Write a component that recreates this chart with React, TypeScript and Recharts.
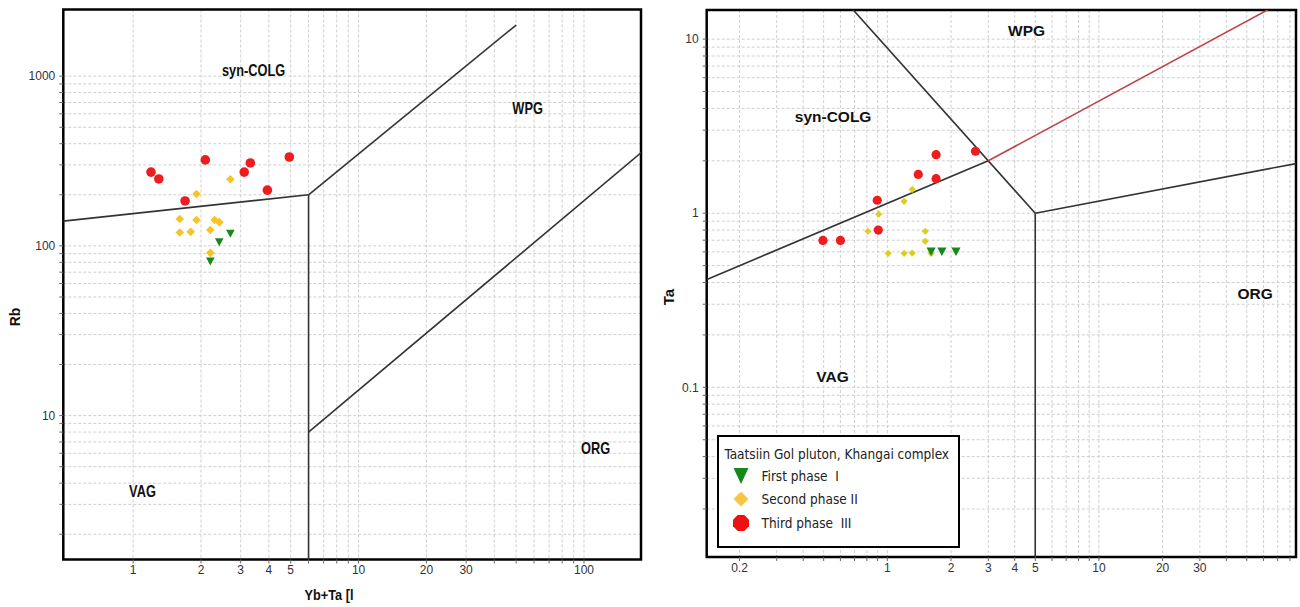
import React from 'react';
import { ScatterChart, Scatter, XAxis, YAxis, CartesianGrid, ReferenceLine, ReferenceArea } from 'recharts';

// ---------- Left diagram: Rb vs Yb+Ta ----------
const leftPhase1 = [
  { x: 2.7, y: 118 },
  { x: 2.41, y: 105 },
  { x: 2.2, y: 81 },
];
const leftPhase2 = [
  { x: 2.7, y: 247 },
  { x: 1.91, y: 202 },
  { x: 1.61, y: 144 },
  { x: 1.91, y: 142 },
  { x: 2.3, y: 142 },
  { x: 2.41, y: 138 },
  { x: 1.61, y: 120 },
  { x: 1.8, y: 121 },
  { x: 2.2, y: 124 },
  { x: 2.2, y: 91 },
];
const leftPhase3 = [
  { x: 1.2, y: 272 },
  { x: 1.3, y: 248 },
  { x: 2.09, y: 321 },
  { x: 1.7, y: 184 },
  { x: 3.11, y: 272 },
  { x: 3.31, y: 308 },
  { x: 3.94, y: 213 },
  { x: 4.93, y: 334 },
];
const leftXDomain = [0.49, 179];
const leftYDomain = [1.42, 2470];
const leftXTicks = [1, 2, 3, 4, 5, 6, 7, 8, 9, 10, 20, 30, 40, 50, 60, 70, 80, 90, 100];
const leftXLabels = [1, 2, 3, 4, 5, 10, 20, 30, 100];
const leftYTicks = [2, 3, 4, 5, 6, 7, 8, 9, 10, 20, 30, 40, 50, 60, 70, 80, 90, 100, 200, 300, 400, 500, 600, 700, 800, 900, 1000];
const leftYLabels = [10, 100, 1000];
const leftBoundaries = [
  [{ x: 0.49, y: 140 }, { x: 6, y: 200 }],
  [{ x: 6, y: 200 }, { x: 6, y: 1 }],
  [{ x: 6, y: 200 }, { x: 50, y: 2000 }],
  [{ x: 6, y: 8 }, { x: 200, y: 400 }],
];
const leftFields = [
  { x: 3.42, y: 1075, t: 'syn-COLG' },
  { x: 56.2, y: 649, t: 'WPG' },
  { x: 1.1, y: 3.59, t: 'VAG' },
  { x: 112.5, y: 6.4, t: 'ORG' },
];

// ---------- Right diagram: Ta vs Yb ----------
const rightPhase1 = [
  { x: 1.61, y: 0.6 },
  { x: 1.81, y: 0.6 },
  { x: 2.11, y: 0.6 },
];
const rightPhase2 = [
  { x: 1.31, y: 1.37 },
  { x: 1.2, y: 1.17 },
  { x: 0.91, y: 0.987 },
  { x: 0.81, y: 0.788 },
  { x: 1.51, y: 0.788 },
  { x: 1.51, y: 0.69 },
  { x: 1.01, y: 0.588 },
  { x: 1.2, y: 0.588 },
  { x: 1.31, y: 0.59 },
  { x: 1.61, y: 0.588 },
];
const rightPhase3 = [
  { x: 0.496, y: 0.698 },
  { x: 0.6, y: 0.698 },
  { x: 0.896, y: 1.187 },
  { x: 0.906, y: 0.8 },
  { x: 1.4, y: 1.67 },
  { x: 1.7, y: 2.17 },
  { x: 1.7, y: 1.58 },
  { x: 2.61, y: 2.27 },
];
const rightXDomain = [0.14, 85.4];
const rightYDomain = [0.0106, 14.7];
const rightXTicks = [0.2, 0.3, 0.4, 0.5, 0.6, 0.7, 0.8, 0.9, 1, 2, 3, 4, 5, 6, 7, 8, 9, 10, 20, 30, 40, 50, 60, 70, 80];
const rightXLabels = [0.2, 1, 2, 3, 4, 5, 10, 20, 30];
const rightYTicks = [0.02, 0.03, 0.04, 0.05, 0.06, 0.07, 0.08, 0.09, 0.1, 0.2, 0.3, 0.4, 0.5, 0.6, 0.7, 0.8, 0.9, 1, 2, 3, 4, 5, 6, 7, 8, 9, 10];
const rightYLabels = [0.1, 1, 10];
const rightBoundaries = [
  [{ x: 0.1, y: 0.35 }, { x: 3, y: 2 }],
  [{ x: 0.55, y: 20 }, { x: 5, y: 1 }],
  [{ x: 5, y: 1 }, { x: 5, y: 0.001 }],
  [{ x: 5, y: 1 }, { x: 100, y: 2 }],
];
const rightRedBoundary = [{ x: 3, y: 2 }, { x: 100, y: 20 }];
const rightFields = [
  { x: 4.55, y: 11.2, t: 'WPG' },
  { x: 0.554, y: 3.59, t: 'syn-COLG' },
  { x: 54.7, y: 0.344, t: 'ORG' },
  { x: 0.551, y: 0.1147, t: 'VAG' },
];

const legendTitle = 'Taatsiin Gol pluton, Khangai complex';
const legendItems = ['First phase  I', 'Second phase II', 'Third phase  III'];

const GREEN = '#17891a';
const RED = '#ec1c1f';
const GOLD_L = '#f6c425';
const GOLD_R = '#dccf1c';

const tickFont = { fontSize: 12, fill: '#333', fontFamily: 'Liberation Sans, Arial, sans-serif' };

const circleShape = (color: string, r: number) => (p: any) => (
  <circle cx={p.cx} cy={p.cy} r={r} fill={color} />
);
const diamondShape = (color: string, s: number) => (p: any) => (
  <polygon
    points={`${p.cx},${p.cy - s} ${p.cx + s},${p.cy} ${p.cx},${p.cy + s} ${p.cx - s},${p.cy}`}
    fill={color}
  />
);
const triDownShape = (color: string, w: number, h: number) => (p: any) => (
  <polygon
    points={`${p.cx - w},${p.cy - h / 2} ${p.cx + w},${p.cy - h / 2} ${p.cx},${p.cy + h / 2}`}
    fill={color}
  />
);
const fieldShape = (size: number, squeeze: number) => (p: any) => (
  <text
    transform={`translate(${p.cx} ${p.cy}) scale(${squeeze} 1)`}
    textAnchor="middle"
    dominantBaseline="central"
    fontFamily="Liberation Sans, Arial, sans-serif"
    fontWeight="bold"
    fontSize={size}
    fill="#111"
  >
    {p.payload.t}
  </text>
);

const AxisTitle = (props: any) => (
  <text
    transform={`translate(${props.tx} ${props.ty}) ${props.rot ? 'rotate(-90)' : ''} scale(${props.squeeze || 1} 1)`}
    textAnchor="middle"
    dominantBaseline="central"
    fontFamily="Liberation Sans, Arial, sans-serif"
    fontWeight="bold"
    fontSize={props.size || 14}
    fill="#111"
  >
    {props.text}
  </text>
);

const fmt = (labels: number[]) => (v: number) => (labels.some((l) => Math.abs(l - v) < 1e-9) ? String(v) : '');

function LeftChart() {
  return (
    <ScatterChart width={650} height={607} margin={{ top: 9.5, right: 9, bottom: 0, left: 0 }}>
      <CartesianGrid stroke="#cfcfcf" strokeDasharray="3 2" />
      <XAxis
        type="number"
        dataKey="x"
        scale="log"
        domain={leftXDomain}
        allowDataOverflow
        ticks={leftXTicks}
        tickFormatter={fmt(leftXLabels)}
        interval={0}
        height={47.5}
        axisLine={false}
        tickLine={{ stroke: '#666' }}
        tickSize={4}
        tick={tickFont}
        label={<AxisTitle tx={329} ty={595} text="Yb+Ta [l" size={15} squeeze={0.85} />}
      />
      <YAxis
        type="number"
        dataKey="y"
        scale="log"
        domain={leftYDomain}
        allowDataOverflow
        ticks={leftYTicks}
        tickFormatter={fmt(leftYLabels)}
        interval={0}
        width={63.3}
        axisLine={false}
        tickLine={{ stroke: '#666' }}
        tickSize={4}
        tickMargin={4}
        tick={tickFont}
        label={<AxisTitle tx={15} ty={317} rot text="Rb" size={14} />}
      />
      {leftBoundaries.map((seg, i) => (
        <ReferenceLine key={i} segment={seg} stroke="#333" strokeWidth={1.6} ifOverflow="hidden" />
      ))}
      <ReferenceArea
        x1={leftXDomain[0]}
        x2={leftXDomain[1]}
        y1={leftYDomain[0]}
        y2={leftYDomain[1]}
        fill="none"
        fillOpacity={0}
        stroke="#000"
        strokeWidth={2.5}
        ifOverflow="visible"
      />
      <Scatter data={leftFields} shape={fieldShape(16, 0.8)} isAnimationActive={false} />
      <Scatter data={leftPhase2} shape={diamondShape(GOLD_L, 4.3)} isAnimationActive={false} />
      <Scatter data={leftPhase1} shape={triDownShape(GREEN, 4.3, 8)} isAnimationActive={false} />
      <Scatter data={leftPhase3} shape={circleShape(RED, 4.8)} isAnimationActive={false} />
    </ScatterChart>
  );
}

function RightChart() {
  return (
    <ScatterChart width={650} height={607} margin={{ top: 10, right: 4, bottom: 0, left: 0 }}>
      <CartesianGrid stroke="#cfcfcf" strokeDasharray="3 2" />
      <XAxis
        type="number"
        dataKey="x"
        scale="log"
        domain={rightXDomain}
        allowDataOverflow
        ticks={rightXTicks}
        tickFormatter={fmt(rightXLabels)}
        interval={0}
        height={50}
        axisLine={false}
        tickLine={{ stroke: '#666' }}
        tickSize={4}
        tick={tickFont}
      />
      <YAxis
        type="number"
        dataKey="y"
        scale="log"
        domain={rightYDomain}
        allowDataOverflow
        ticks={rightYTicks}
        tickFormatter={fmt(rightYLabels)}
        interval={0}
        width={56.7}
        axisLine={false}
        tickLine={{ stroke: '#666' }}
        tickSize={4}
        tickMargin={4}
        tick={tickFont}
        label={<AxisTitle tx={18} ty={297} rot text="Ta" size={15} />}
      />
      {rightBoundaries.map((seg, i) => (
        <ReferenceLine key={i} segment={seg} stroke="#333" strokeWidth={1.6} ifOverflow="hidden" />
      ))}
      <ReferenceLine segment={rightRedBoundary} stroke="#c0444c" strokeWidth={1.6} ifOverflow="hidden" />
      <ReferenceArea
        x1={rightXDomain[0]}
        x2={rightXDomain[1]}
        y1={rightYDomain[0]}
        y2={rightYDomain[1]}
        fill="none"
        fillOpacity={0}
        stroke="#000"
        strokeWidth={2.5}
        ifOverflow="visible"
      />
      <Scatter data={rightFields} shape={fieldShape(15.5, 1)} isAnimationActive={false} />
      <Scatter data={rightPhase2} shape={diamondShape(GOLD_R, 3.6)} isAnimationActive={false} />
      <Scatter data={rightPhase1} shape={triDownShape(GREEN, 4.6, 8.5)} isAnimationActive={false} />
      <Scatter data={rightPhase3} shape={circleShape(RED, 4.6)} isAnimationActive={false} />
    </ScatterChart>
  );
}

function LegendMarker({ i }: { i: number }) {
  return (
    <svg width={20} height={20} style={{ display: 'block' }}>
      {i === 0 && <polygon points="2.5,2 17.5,2 10,18" fill={GREEN} />}
      {i === 1 && <polygon points="10,2.5 17.5,10 10,17.5 2.5,10" fill="#f7c744" />}
      {i === 2 && (
        <polygon points="6.7,2 13.3,2 18,6.7 18,13.3 13.3,18 6.7,18 2,13.3 2,6.7" fill="#ee1111" />
      )}
    </svg>
  );
}

function Legend() {
  return (
    <div
      style={{
        position: 'absolute',
        left: 716.5,
        top: 434.5,
        width: 243,
        height: 113,
        boxSizing: 'border-box',
        border: '2.5px solid #000',
        background: '#fff',
        fontFamily: 'DejaVu Sans Condensed, Liberation Sans, Arial, sans-serif',
        fontSize: 13.5,
        color: '#222',
      }}
    >
      <div style={{ position: 'absolute', left: 6, top: 9, whiteSpace: 'nowrap', lineHeight: '16px' }}>{legendTitle}</div>
      {legendItems.map((t, i) => (
        <div
          key={t}
          style={{
            position: 'absolute',
            left: 12,
            top: 29 + i * 23.5,
            display: 'flex',
            alignItems: 'center',
            whiteSpace: 'pre',
            lineHeight: '20px',
          }}
        >
          <LegendMarker i={i} />
          <span style={{ marginLeft: 11 }}>{t}</span>
        </div>
      ))}
    </div>
  );
}

export default function App() {
  return (
    <div style={{ position: 'absolute', left: 0, top: 0, width: 1300, height: 607, background: '#fff', overflow: 'hidden' }}>
      <div style={{ position: 'absolute', left: 0, top: 0 }}>
        <LeftChart />
      </div>
      <div style={{ position: 'absolute', left: 650, top: 0 }}>
        <RightChart />
      </div>
      <Legend />
    </div>
  );
}
